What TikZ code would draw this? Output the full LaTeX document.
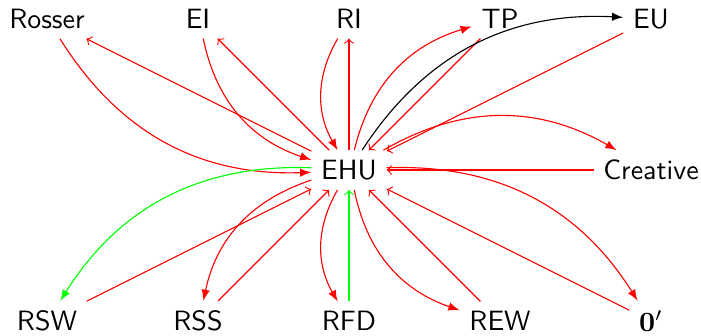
\documentclass[tikz,border=0pt]{standalone}
\begin{document}
\begin{tikzpicture}[x=1.9cm,y=1.9cm,font=\sffamily]
      \useasboundingbox (-0.311,-1.099) rectangle (4.331,1.126);
      \draw
        (0,1) node (Rosser){Rosser}
        (1,1) node (EI){EI}
        (2,1) node (RI){RI}
        (3,1) node (TP){TP}
        (4,1) node (EU){EU}
        (2,0) node (EHU){EHU}
        (4,0) node (Creative){Creative}
        (0,-1) node (RSW){RSW}
        (1,-1) node (RSS){RSS}
        (2,-1) node (RFD){RFD}
        (3,-1) node (REW){REW}
        (4,-1) node (Zero){$\mathbf{0}'$};
      \begin{scope}[->,red]
        \draw (EHU) to (Rosser);
        \draw (EHU) to (EI);
        \draw (EHU) to (RI);
        \draw (TP) to (EHU);
        \draw (EU) to (EHU);
        \draw (Creative) to (EHU);
        \draw (Zero) to (EHU);
        \draw (REW) to (EHU);
        \draw[green] (RFD) to (EHU);
        \draw (RSS) to (EHU);
        \draw (RSW) to (EHU);
      \end{scope}
      \begin{scope}[-latex,red]
        \draw (Rosser) to[bend right] (EHU);
        \draw (EI) to[bend right] (EHU);
        \draw (RI) to[bend right] (EHU);
        \draw (EHU) to[bend left] (TP);
        \draw[black] (EHU) to[bend left] (EU);
        \draw (EHU) to[bend left] (Creative);
        \draw (EHU) to[bend left] (Zero);
        \draw (EHU) to[bend right] (REW);
        \draw (EHU) to[bend right] (RFD);
        \draw (EHU) to[bend right] (RSS);
        \draw[green] (EHU) to[bend right] (RSW);
      \end{scope}
    \end{tikzpicture}
\end{document}
